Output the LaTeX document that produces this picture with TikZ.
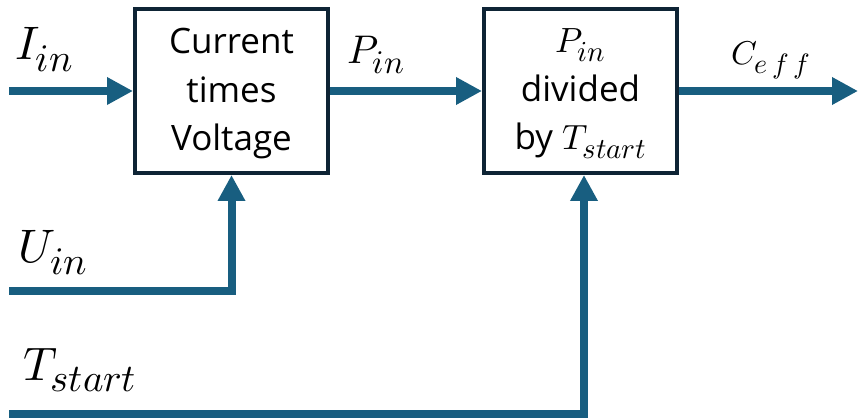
\documentclass[tikz,border=0pt]{standalone}
\usepackage{fontspec}
\usepackage{unicode-math}
\setmainfont{Open Sans}
\setmathfont{Latin Modern Math}
\DeclareMathSizes{47}{47}{39}{30}
\DeclareMathSizes{40}{40}{33}{25}
\DeclareMathSizes{35}{35}{29}{22}
\DeclareMathSizes{33}{33}{28}{21}
\usetikzlibrary{arrows.meta}
\definecolor{flow}{RGB}{24,94,128}
\definecolor{edge}{RGB}{14,36,53}
\begin{document}
\begin{tikzpicture}[x=1pt,y=-1pt,
  flowline/.style={line width=8pt, draw=flow, line join=miter, -{Triangle[length=26pt,width=26pt]}},
  blockbox/.style={draw=edge, line width=4pt, fill=white, minimum width=193pt, minimum height=164pt, inner sep=0pt},
  blocktext/.style={inner sep=0pt, align=center, font=\fontsize{35}{48.5}\selectfont},
  biglabel/.style={anchor=base west, inner sep=0pt, font=\fontsize{47}{50}\selectfont},
  midlabel/.style={anchor=base west, inner sep=0pt, font=\fontsize{40}{42}\selectfont},
  smalllabel/.style={anchor=base west, inner sep=0pt, font=\fontsize{33}{35}\selectfont}]
\useasboundingbox[fill=white] (0,0) rectangle (858,419);
\node[blockbox] (b1) at (231.5,91) {};
\node[blockbox] (b2) at (580.5,91) {};
\node[blocktext] (t1) at ([yshift=-3pt]b1.center) {Current\\times\\Voltage};
\node[blocktext] (t2) at ([yshift=-3pt]b2.center) {$P_{in}$\\divided\\by $T_{start}$};
\coordinate (iI) at (9,91);
\coordinate (iU) at (9,291);
\coordinate (iT) at (9,414);
\coordinate (out) at (858,91);
\draw[flowline] (iI) -- (b1.west);
\draw[flowline] (b1.east) -- (b2.west);
\draw[flowline] (b2.east) -- (out);
\draw[flowline] (iU) -| (b1.south);
\draw[flowline] (iT) -| ([xshift=3.5pt]b2.south);
\node[biglabel] (lI) at (15,60) {$I_{in}$};
\node[biglabel] (lU) at (18,263) {$U_{in}$};
\node[biglabel] (lT) at (23,380) {$T_{start}$};
\node[midlabel] (lP) at (347,64) {$P_{in}$};
\node[smalllabel] (lC) at (731,65) {$C_{e\,f\,f}$};
\end{tikzpicture}
\end{document}
